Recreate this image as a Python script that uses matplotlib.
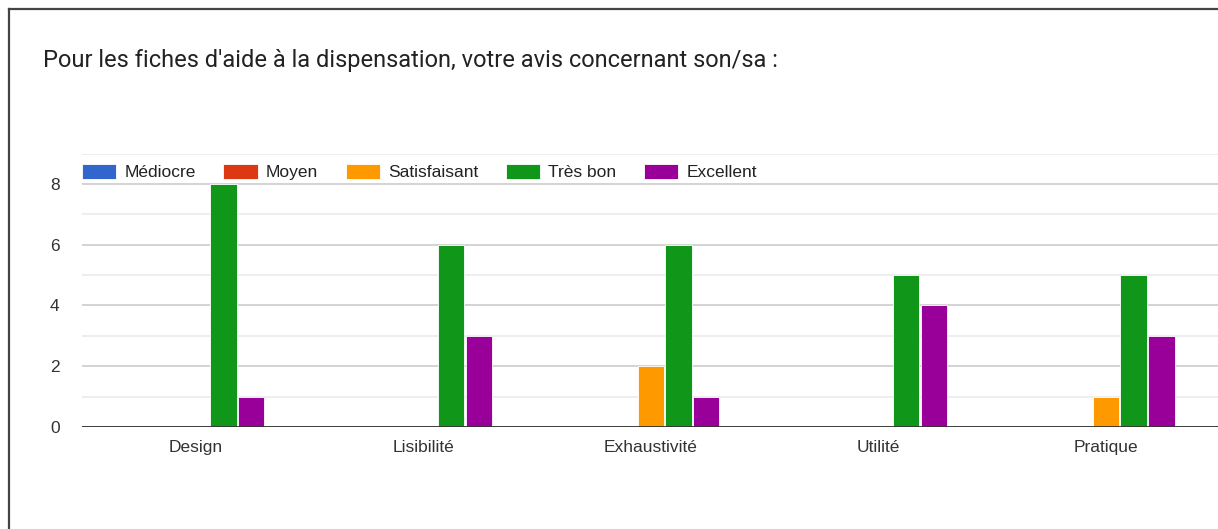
import matplotlib
matplotlib.use('Agg')

import matplotlib.pyplot as plt
import numpy as np
from matplotlib.lines import Line2D

plt.rcParams['font.family'] = ['Liberation Sans', 'DejaVu Sans']

# data
title = "Pour les fiches d'aide à la dispensation, votre avis concernant son/sa :"
categories = ['Design', 'Lisibilité', 'Exhaustivité', 'Utilité', 'Pratique']
series = ['Médiocre', 'Moyen', 'Satisfaisant', 'Très bon', 'Excellent']
mediocre = [0, 0, 0, 0, 0]
moyen = [0, 0, 0, 0, 0]
satisfaisant = [0, 0, 2, 0, 1]
tres_bon = [8, 6, 6, 5, 5]
excellent = [1, 3, 1, 4, 3]
colors = ['#3366cc', '#dc3912', '#ff9900', '#109618', '#990099']

values = [mediocre, moyen, satisfaisant, tres_bon, excellent]

fig = plt.figure(figsize=(12.18, 5.29), dpi=100)
ax = fig.add_axes([0.0673, 0.1928, 0.9340, 0.5169])

x = np.arange(len(categories))
step = 0.122
width = 0.116
for i, (name, vals, col) in enumerate(zip(series, values, colors)):
    offs = (i - 2) * step
    ax.bar(x + offs, vals, width, color=col, edgecolor='white',
           linewidth=0.6, label=name, zorder=2)

ax.set_xlim(-0.5, len(categories) - 0.5)
ax.set_ylim(0, 9)
ax.set_yticks([0, 2, 4, 6, 8])
ax.set_yticks([1, 3, 5, 7, 9], minor=True)
ax.set_xticks(x)
ax.set_xticklabels(categories)
ax.tick_params(axis='both', which='both', length=0, labelsize=12.5,
               labelcolor='#333333')
ax.tick_params(axis='y', pad=16)
ax.tick_params(axis='x', pad=9)
ax.grid(axis='y', which='major', color='#cccccc', linewidth=1.2, zorder=0)
ax.grid(axis='y', which='minor', color='#ebebeb', linewidth=1.2, zorder=0)
ax.set_axisbelow(True)
for s in ax.spines.values():
    s.set_visible(False)
ax.axhline(0, color='#333333', linewidth=1.3, zorder=3)

ax.legend(loc='center left', bbox_to_anchor=(0, 8.4 / 9), ncol=5,
          frameon=False, fontsize=12.5, labelcolor='#222222',
          handlelength=1.97, handleheight=0.95, handletextpad=0.48,
          columnspacing=1.58, borderpad=0, borderaxespad=0)

fig.text(43 / 1218, 1 - 60 / 529, title, fontsize=17, color='#222222',
         ha='left', va='center', family=['Roboto', 'DejaVu Sans'])

# frame around the card (cropped on right / bottom)
fig.add_artist(Line2D([8.5 / 1218, 8.5 / 1218], [0, 1 - 9 / 529],
                      transform=fig.transFigure, color='#444444', linewidth=1.6))
fig.add_artist(Line2D([8.5 / 1218, 1], [1 - 9 / 529, 1 - 9 / 529],
                      transform=fig.transFigure, color='#444444', linewidth=1.6))

fig.savefig('out.png', dpi=100)
